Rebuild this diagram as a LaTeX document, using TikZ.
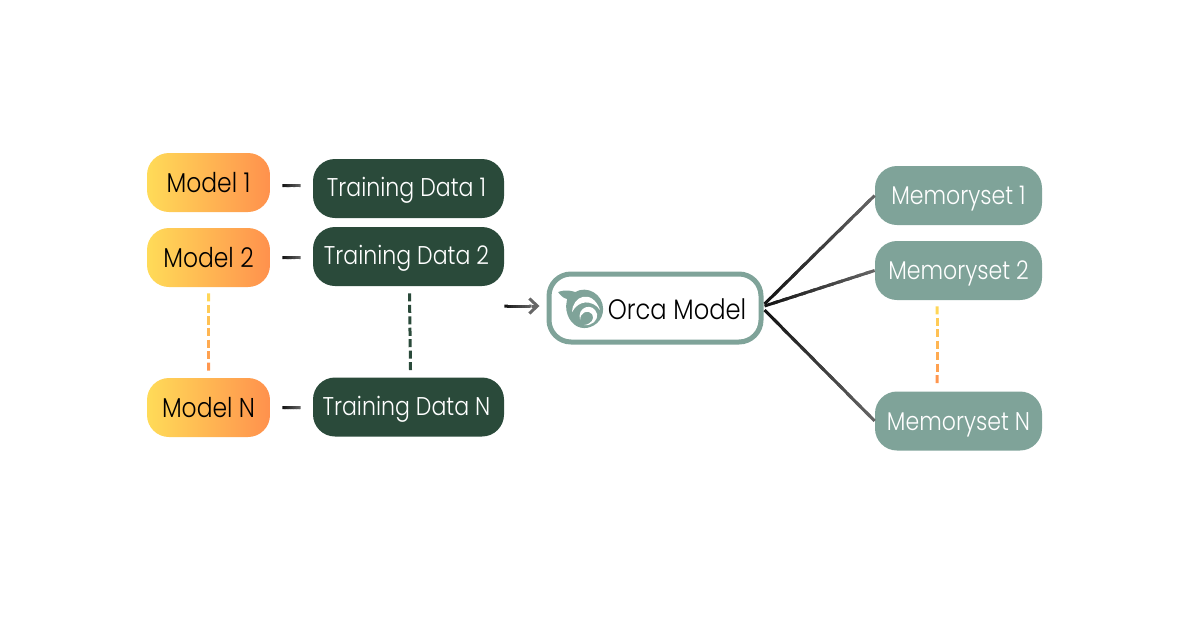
\documentclass[tikz,border=0pt]{standalone}
\usepackage{fontspec}
\setmainfont[FakeStretch=0.86]{Poppins Light}
\usetikzlibrary{calc, positioning, arrows.meta}

\definecolor{modelyellow}{HTML}{FFDB58}
\definecolor{modelorange}{HTML}{FF914D}
\definecolor{datagreen}{HTML}{2A4A3A}
\definecolor{memoryteal}{HTML}{7FA399}
\definecolor{lineblack}{HTML}{111111}
\definecolor{linegray}{HTML}{666666}

\tikzset{
	allbox/.style={rounded corners=0.44cm, minimum height=1.18cm, inner sep=0pt, text height=0.4cm, text depth=0.02cm, font=\fontsize{14.6}{18}\selectfont},
	modelbox/.style={allbox, minimum width=2.46cm, left color=modelyellow, right color=modelorange, text=black, font=\fontsize{15.5}{18}\selectfont},
	databox/.style={allbox, minimum width=3.82cm, fill=datagreen, text=white, text height=0.37cm, text depth=0.05cm, execute at end node=\hspace{0.08cm}},
	memorybox/.style={allbox, minimum width=3.34cm, fill=memoryteal, text=white, text height=0.39cm, text depth=0.03cm},
	orcabox/.style={allbox, minimum width=4.24cm, minimum height=1.36cm, draw=memoryteal, line width=0.1cm, fill=white, text=black, text height=0.48cm, font=\fontsize{16}{18}\selectfont}
}

% line in short pieces, colour going from #3 to #4
\newcommand{\fadeline}[5][0.06cm]{%
	\foreach \i in {1,...,12}{
		\pgfmathsetmacro{\shareA}{(\i-1)/12}
		\pgfmathsetmacro{\shareB}{min((\i+0.5)/12,1)}
		\pgfmathsetmacro{\mixval}{100*(\i-0.5)/12}
		\draw[#5!\mixval!#4, line width=#1] ($(#2)!\shareA!(#3)$) -- ($(#2)!\shareB!(#3)$);
	}
}
% dashed line in 7 dashes, colour going from #3 to #4
\newcommand{\dashline}[4]{%
	\foreach \i in {1,...,7}{
		\pgfmathsetmacro{\shareA}{(\i-1)/6.7}
		\pgfmathsetmacro{\shareB}{(\i-0.3)/6.7}
		\pgfmathsetmacro{\mixval}{100*(\i-0.5)/7}
		\draw[#4!\mixval!#3, line width=0.06cm] ($(#1)!\shareA!(#2)$) -- ($(#1)!\shareB!(#2)$);
	}
}

\begin{document}
\begin{tikzpicture}
	\useasboundingbox (0,0) rectangle (24,12.6);
	
	% Models
	\node[modelbox] (model1) at (4.17,8.95) {Model 1};
	\node[modelbox] (model2) at (4.17,7.45) {Model 2};
	\node[modelbox] (modelN) at (4.17,4.45) {Model N};
	
	% Training data
	\node[databox] (data1) at (8.17,8.83) {Training Data 1};
	\node[databox] (data2) at (8.17,7.47) {Training Data 2};
	\node[databox] (dataN) at (8.17,4.46) {Training Data N};
	
	% Memorysets
	\node[memorybox] (mem1) at (19.17,8.69) {Memoryset 1};
	\node[memorybox] (mem2) at (19.17,7.19) {Memoryset 2};
	\node[memorybox] (memN) at (19.17,4.18) {Memoryset N};
	
	% Orca model
	\node[orcabox] (orca) at (13.1,6.44) {\hspace{0.88cm}Orca Model};
	
	% Short lines
	\coordinate (m1a) at ($(model1.east)+(0.24,-0.06)$);
	\coordinate (m1b) at ($(data1.west)+(-0.24,0.06)$);
	\coordinate (m2a) at ($(model2.east)+(0.24,0)$);
	\coordinate (m2b) at ($(data2.west)+(-0.24,-0.02)$);
	\coordinate (mNa) at ($(modelN.east)+(0.24,0)$);
	\coordinate (mNb) at ($(dataN.west)+(-0.24,-0.01)$);
	\fadeline{m1a}{m1b}{lineblack}{linegray}
	\fadeline{m2a}{m2b}{lineblack}{linegray}
	\fadeline{mNa}{mNb}{lineblack}{linegray}
	
	% Dashed lines
	\coordinate (d1a) at ($(model2.south)+(0,-0.12)$);
	\coordinate (d1b) at ($(modelN.north)+(0,0.14)$);
	\coordinate (d2a) at ($(data2.south)+(0.02,-0.14)$);
	\coordinate (d2b) at ($(dataN.north)+(0.04,0.14)$);
	\coordinate (d3a) at ($(mem2.south)+(-0.43,-0.12)$);
	\coordinate (d3b) at ($(memN.north)+(-0.43,0.16)$);
	\dashline{d1a}{d1b}{modelyellow}{modelorange}
	\dashline{d2a}{d2b}{datagreen}{datagreen}
	\dashline{d3a}{d3b}{modelyellow}{modelorange}
	
	% Arrow into the model
	\coordinate (arrowEnd) at ($(orca.west)+(-0.14,0.04)$);
	\coordinate (arrowMid) at ($(orca.west)+(-0.3,0.04)$);
	\coordinate (arrowStart) at (data2.east |- arrowEnd);
	\fadeline{arrowStart}{arrowMid}{lineblack}{linegray}
	\draw[linegray, line width=0.06cm, -{Straight Barb[length=0.16cm,width=0.3cm]}] (arrowMid) -- (arrowEnd);
	
	% Lines to the memorysets
	\coordinate (o1) at ($(orca.east)+(0.02,0.08)$);
	\coordinate (o2) at ($(orca.east)+(0.02,0.04)$);
	\coordinate (o3) at ($(orca.east)+(0.02,-0.04)$);
	\fadeline{o1}{mem1.west}{lineblack}{linegray}
	\fadeline{o2}{mem2.west}{lineblack}{linegray}
	\fadeline{o3}{memN.west}{lineblack}{linegray}
	
	% Logo, in pixels of the image
	\begin{scope}[shift={(0,12.6)}, x=0.02cm, y=-0.02cm]
		\fill[memoryteal] (558,292) .. controls (566,289) and (572,291) .. (575,292)
			.. controls (587,285) and (603,294) .. (603,309)
			.. controls (603,321) and (593,328) .. (584,328)
			.. controls (574,328) and (566,318) .. (566,306)
			.. controls (566,303) and (567,301) .. (567,299)
			.. controls (563,298) and (560,295) .. (558,292) -- cycle;
		\fill[white] (572,312) .. controls (572,296) and (592,288) .. (600,310)
			.. controls (592,299) and (578,300) .. (572,312) -- cycle;
		\fill[white] (580,320) .. controls (576,307) and (593,301) .. (597,314)
			.. controls (598,320) and (592,326) .. (584,325)
			.. controls (591,324) and (595,319) .. (592,314)
			.. controls (588,309) and (580,312) .. (580,320) -- cycle;
	\end{scope}
\end{tikzpicture}
\end{document}
